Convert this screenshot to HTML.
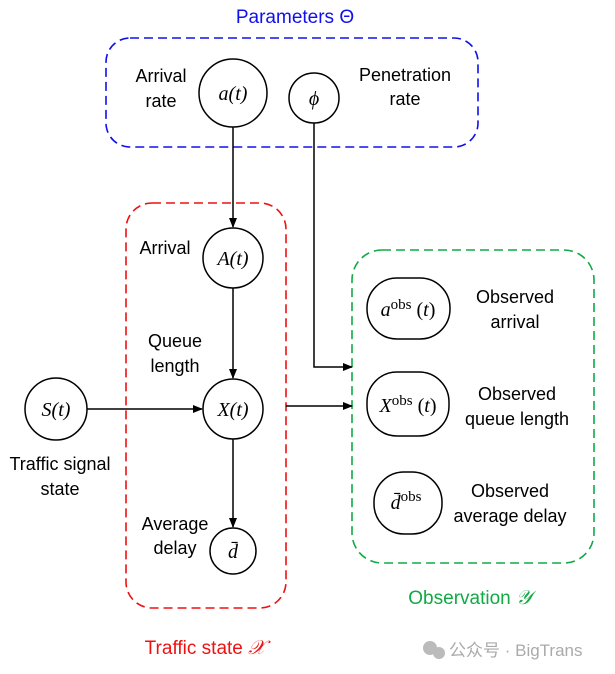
<!DOCTYPE html>
<html><head><meta charset="utf-8"><style>
html,body{margin:0;padding:0;background:#fff;width:615px;height:674px;overflow:hidden}
svg text{font-family:"Liberation Sans",sans-serif;font-size:18px;fill:#000}
.m{font-family:"Liberation Serif","DejaVu Serif",serif;font-style:italic;font-size:20px}
</style></head><body>
<svg width="615" height="674" viewBox="0 0 615 674" xmlns="http://www.w3.org/2000/svg">
<defs><marker id="ar" markerWidth="10" markerHeight="8" refX="9" refY="4" orient="auto" markerUnits="userSpaceOnUse"><path d="M0,0 L10,4 L0,8 z" fill="#000"/></marker></defs>
<g fill="none" stroke-width="1.6" stroke-dasharray="9,5">
<rect x="106" y="38" width="372" height="109" rx="24" stroke="#1010ee"/>
<rect x="126" y="203" width="160" height="405" rx="26" stroke="#ee1111"/>
<rect x="352" y="250" width="242" height="313" rx="30" stroke="#11aa44"/>
</g>
<text x="295" y="23" text-anchor="middle" style="fill:#1010ee;font-size:19px">Parameters Θ</text>
<text x="470" y="604" text-anchor="middle" style="fill:#11aa44;font-size:19px">Observation <tspan class="m" style="fill:#11aa44">𝒴</tspan></text>
<text x="205" y="654" text-anchor="middle" style="fill:#ee1111;font-size:19px">Traffic state <tspan class="m" style="fill:#ee1111">𝒳</tspan></text>
<g stroke="#000" stroke-width="1.5" fill="none">
<line x1="233" y1="127" x2="233" y2="227" marker-end="url(#ar)"/>
<line x1="233" y1="288" x2="233" y2="378" marker-end="url(#ar)"/>
<line x1="233" y1="439" x2="233" y2="527" marker-end="url(#ar)"/>
<line x1="87" y1="409" x2="202" y2="409" marker-end="url(#ar)"/>
<polyline points="314,123 314,367 352,367" marker-end="url(#ar)"/>
<line x1="286" y1="406" x2="352" y2="406" marker-end="url(#ar)"/>
<circle cx="233" cy="93" r="34" fill="#fff"/>
<circle cx="314" cy="98" r="25" fill="#fff"/>
<circle cx="233" cy="258" r="30" fill="#fff"/>
<circle cx="233" cy="409" r="30" fill="#fff"/>
<circle cx="233" cy="551" r="23" fill="#fff"/>
<circle cx="56" cy="409" r="31" fill="#fff"/>
<rect x="367" y="278" width="83" height="61" rx="30" fill="#fff"/>
<rect x="367" y="372" width="82" height="64" rx="30" fill="#fff"/>
<rect x="374" y="472" width="68" height="62" rx="30" fill="#fff"/>
</g>
<text class="m" x="233" y="100" text-anchor="middle">a(t)</text>
<text class="m" x="314" y="105" text-anchor="middle">ϕ</text>
<text class="m" x="233" y="265" text-anchor="middle">A(t)</text>
<text class="m" x="233" y="416" text-anchor="middle">X(t)</text>
<text class="m" x="233" y="558" text-anchor="middle">d̄</text>
<text class="m" x="56" y="416" text-anchor="middle">S(t)</text>
<text class="m" x="408" y="316" text-anchor="middle">a<tspan style="font-style:normal;font-size:15px" dy="-7">obs</tspan><tspan dy="7" style="font-style:normal"> (</tspan>t<tspan style="font-style:normal">)</tspan></text>
<text class="m" x="408" y="412" text-anchor="middle">X<tspan style="font-style:normal;font-size:15px" dy="-7">obs</tspan><tspan dy="7" style="font-style:normal"> (</tspan>t<tspan style="font-style:normal">)</tspan></text>
<text class="m" x="406" y="509" text-anchor="middle">d̄<tspan style="font-style:normal;font-size:15px" dy="-8">obs</tspan></text>
<g text-anchor="middle">
<text x="161" y="82">Arrival</text><text x="161" y="107">rate</text>
<text x="405" y="81">Penetration</text><text x="405" y="105">rate</text>
<text x="165" y="254">Arrival</text>
<text x="175" y="347">Queue</text><text x="175" y="372">length</text>
<text x="60" y="470">Traffic signal</text><text x="60" y="495">state</text>
<text x="175" y="530">Average</text><text x="175" y="554">delay</text>
<text x="515" y="303">Observed</text><text x="515" y="328">arrival</text>
<text x="517" y="400">Observed</text><text x="517" y="425">queue length</text>
<text x="510" y="497">Observed</text><text x="510" y="522">average delay</text>
</g>
<circle cx="430" cy="648" r="7" fill="#bbb"/><circle cx="439" cy="653" r="6" fill="#bbb"/>
<text x="449" y="656" style="fill:#aaa;font-size:17px;font-family:'Liberation Sans','Noto Sans CJK SC',sans-serif">公众号 · BigTrans</text>
</svg>
</body></html>
